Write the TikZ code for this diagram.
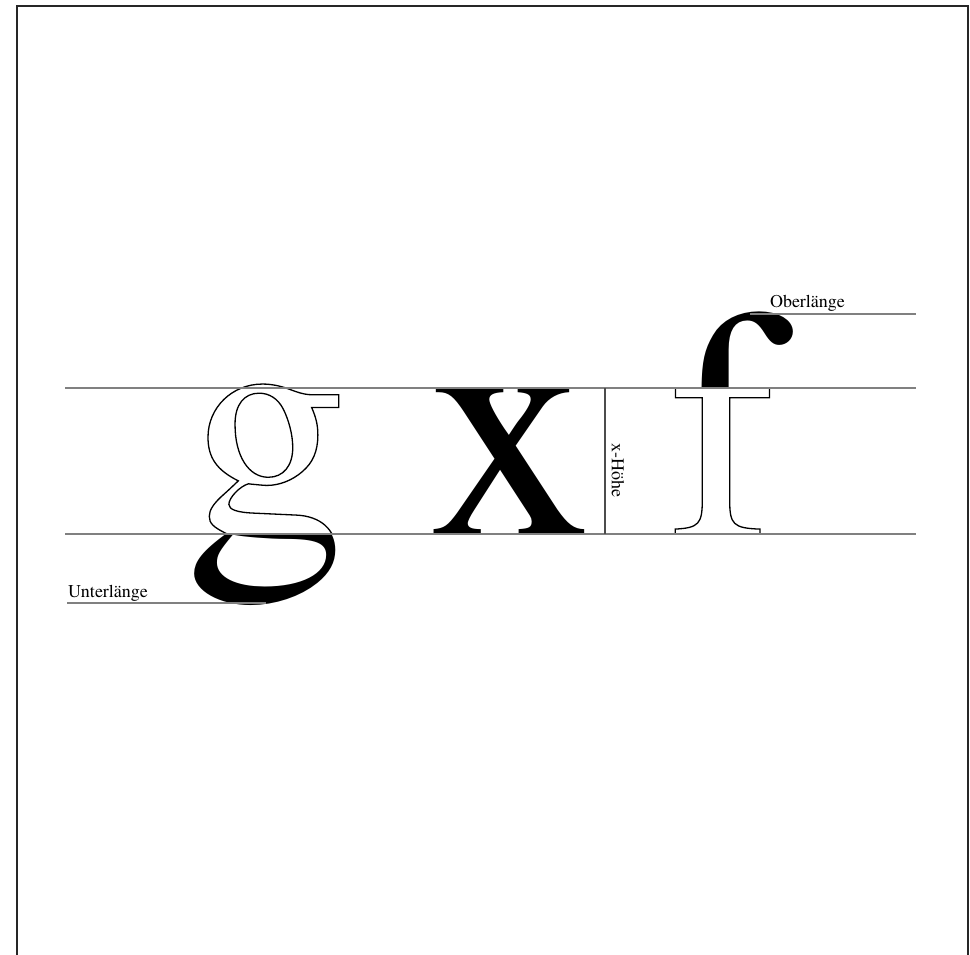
\documentclass[tikz,border=0pt]{standalone}
\usepackage[T1]{fontenc}
\usepackage{times}
\newcommand\outlinetext[1]{\special{pdf:literal direct 1 Tr 1.3 w}#1\special{pdf:literal direct 0 Tr}}
\tikzset{
  frame/.style={line width=2pt, draw=black!85},
  guide/.style={line width=1.3pt, draw=black!50},
  glyph/.style={inner sep=0pt, outer sep=0pt, anchor=base, font=\fontsize{326}{326}\selectfont},
  label/.style={inner sep=0pt, outer sep=0pt, anchor=base west, font=\fontsize{18}{20}\selectfont}
}
\begin{document}
\begin{tikzpicture}[x=1pt,y=-1pt]
\useasboundingbox (0,0) rectangle (970,955);
% frame
\draw[frame] (17,955) -- (17,6) -- (968,6) -- (968,955);
% guide coordinates
\coordinate (asc-l) at (750,314);  \coordinate (asc-r) at (916,314);
\coordinate (xh-l) at (65,388);    \coordinate (xh-r) at (916,388);
\coordinate (bl-l) at (65,534);    \coordinate (bl-r) at (916,534);
\coordinate (de-l) at (67,603);    \coordinate (de-r) at (266,603);
\coordinate (xv-t) at (605,388);   \coordinate (xv-b) at (605,534);
% g : outline above baseline, filled below
\begin{scope}
  \clip (0,0) rectangle (970,534);
  \node[glyph] (gtop) at (267,534) {\outlinetext{g}};
\end{scope}
\begin{scope}
  \clip (0,534) rectangle (970,955);
  \node[glyph] (gbot) at (267,534) {g};
\end{scope}
% x : filled
\node[glyph] (xglyph) at (510,534) {x};
% f : filled above x-height, outline below
\begin{scope}
  \clip (0,0) rectangle (970,388);
  \node[glyph] (ftop) at (723,534) {f};
\end{scope}
\begin{scope}
  \clip (0,388) rectangle (970,955);
  \node[glyph] (fbot) at (723,534) {\outlinetext{f}};
\end{scope}
% guide lines
\draw[guide] (asc-l) -- (asc-r);
\draw[guide] (xh-l) -- (xh-r);
\draw[guide] (bl-l) -- (bl-r);
\draw[guide] (de-l) -- (de-r);
\draw[guide, draw=black!70] (xv-t) -- (xv-b);
% labels
\node[label] (ober) at (770,307) {Oberlänge};
\node[label] (unter) at (68,597) {Unterlänge};
\node[inner sep=0pt, rotate=-90, font=\fontsize{18}{20}\selectfont] (xhoehe) at (618,470) {x-Höhe};
\end{tikzpicture}
\end{document}
